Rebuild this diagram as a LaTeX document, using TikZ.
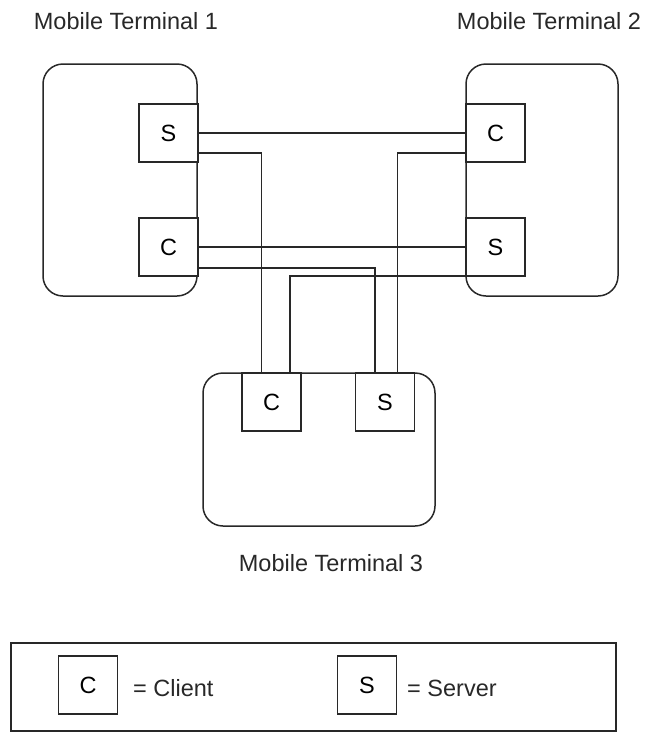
\documentclass[tikz,border=0pt]{standalone}
\usepackage{fontspec}
\setmainfont{Liberation Sans}
\usepackage{tikz}
\usetikzlibrary{positioning,calc}
\definecolor{ink}{RGB}{40,40,40}
\tikzset{
  term/.style={draw=ink, line width=1.5pt, rounded corners=20pt, minimum width=#1, inner sep=0pt},
  cell/.style={draw=ink, line width=1.5pt, fill=white, minimum width=59pt, minimum height=58pt, inner sep=0pt, font=\fontsize{23.5}{28}\selectfont},
  lab/.style={font=\fontsize{23.5}{28}\selectfont, inner sep=0pt, text=ink},
  wire/.style={draw=ink, line width=1.5pt},
}

\begin{document}
\begin{tikzpicture}[x=1pt,y=-1pt]
  \useasboundingbox (0,0) rectangle (645,734);
  \node[term=154pt, minimum height=232pt] (t1) at (120,180) {};
  \node[term=152pt, minimum height=232pt] (t2) at (542,180) {};
  \node[term=232pt, minimum height=153pt] (t3) at (319,449.5) {};
  \node[lab] (n1) at (126,21) {Mobile Terminal 1};
  \node[lab] (n2) at (549,21) {Mobile Terminal 2};
  \node[lab] (n3) at (331,563) {Mobile Terminal 3};
  \node[cell] (s1) at (168.5,133) {S};
  \node[cell] (c1) at (168.5,247) {C};
  \node[cell] (c2) at (495.5,133) {C};
  \node[cell] (s2) at (495.5,247) {S};
  \node[cell] (c3) at (271.5,402) {C};
  \node[cell] (s3) at (385,402) {S};
  \draw[wire] (s1.east) -- (c2.west);
  \draw[wire] (c1.east) -- (s2.west);
  \draw[wire] ([yshift=10pt]s1.south east) -| ([xshift=20pt]c3.north west);
  \draw[wire] ([yshift=9pt]c1.south east) -| ([xshift=20pt]s3.north west);
  \draw[wire] ([yshift=10pt]c2.south west) -| ([xshift=-18pt]s3.north east);
  \draw[wire] ([yshift=1pt]s2.south west) -| ([xshift=-12pt]c3.north east);
  \node[draw=ink, line width=1.5pt, minimum width=605pt, minimum height=88pt] (key) at (313.5,687) {};
  \node[cell] (kc) at (88,685) {C};
  \node[lab, anchor=west] (kct) at (133,688) {= Client};
  \node[cell] (ks) at (367,685) {S};
  \node[lab, anchor=west] (kst) at (407,688) {= Server};
\end{tikzpicture}
\end{document}
